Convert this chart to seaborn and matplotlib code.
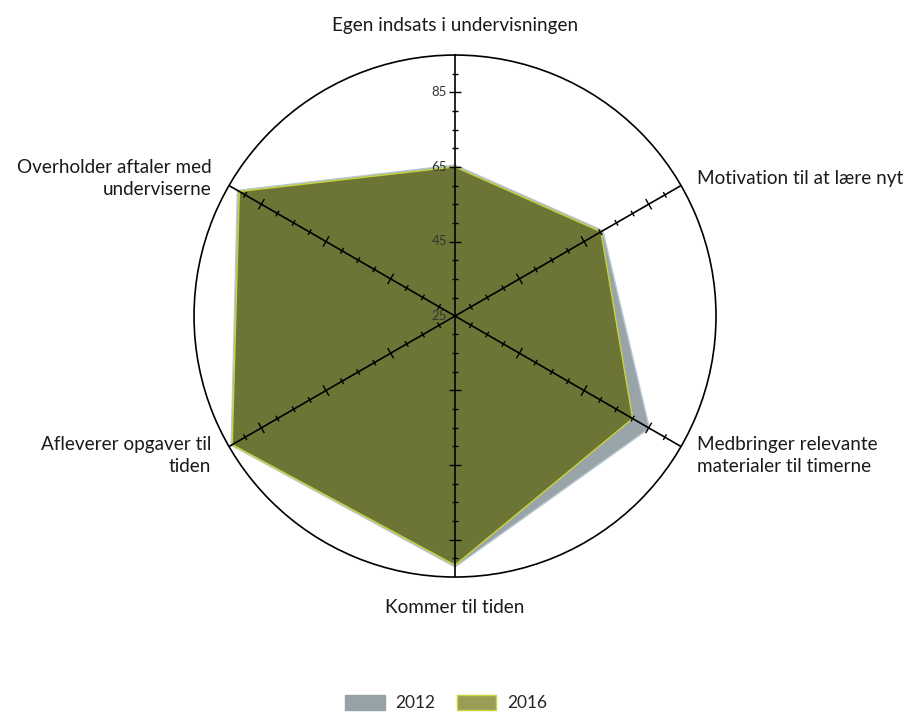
import numpy as np
import matplotlib
matplotlib.use("Agg")
import matplotlib.pyplot as plt
from matplotlib.patches import Patch
import seaborn as sns
import pandas as pd

categories = ["Egen indsats i undervisningen", "Motivation til at lære nyt",
              "Medbringer relevante\nmaterialer til timerne", "Kommer til tiden",
              "Afleverer opgaver til\ntiden", "Overholder aftaler med\nunderviserne"]
values_2012 = [65.5, 70.8, 85.2, 92.3, 94.3, 92.4]
values_2016 = [65.0, 70.2, 80.0, 91.8, 94.0, 91.8]
years = ["2012", "2016"]
r_min, r_max = 25, 95
tick_vals = [25, 45, 65, 85]

sns.set_style("white")
plt.rcParams['font.family'] = ['Lato', 'DejaVu Sans']

fill_colors = {"2012": "#98a4a8", "2016": "#6c7536"}
edge_colors = {"2012": "#b9c9d2", "2016": "#c9d43c"}
legend_colors = {"2012": "#95a3a6", "2016": "#9a9d55"}

fig = plt.figure(figsize=(9.16, 7.13), dpi=100)
ax = fig.add_axes([0.2118, 0.1907, 0.5699, 0.7321], projection="polar")
ax.set_theta_zero_location("N")
ax.set_theta_direction(-1)
ax.set_ylim(r_min, r_max)

n = len(categories)
angles = np.linspace(0, 2 * np.pi, n, endpoint=False)

rows = []
for yr, vals in zip(years, [values_2012, values_2016]):
    th = np.append(angles, 2 * np.pi)
    vv = np.append(vals, vals[0])
    ax.fill(th, vv, color=fill_colors[yr], zorder=2 if yr == "2012" else 3, lw=0)
    for t, v in zip(th, vv):
        rows.append({"theta": t, "r": v, "year": yr})
df = pd.DataFrame(rows)
sns.lineplot(data=df, x="theta", y="r", hue="year", palette=edge_colors,
             ax=ax, sort=True, estimator=None, lw=1.0, legend=False, zorder=4)

# spokes with tick marks (short cross segments, length in pixels)
fig.canvas.draw()
px_per_unit = (ax.transData.transform((0, r_max))[1] - ax.transData.transform((0, r_min))[1]) / (r_max - r_min)
minor = [v for v in range(30, 95, 5) if v not in tick_vals]
for a in angles:
    ax.plot([a, a], [r_min, r_max], color="black", lw=1.2, zorder=5)
    for v in minor + tick_vals[1:]:
        half = 6.0 if v in tick_vals else 3.2
        d = half / ((v - r_min) * px_per_unit)
        ax.plot([a - d, a + d], [v, v], color="black", lw=1.0, zorder=6,
                solid_capstyle="butt")

ax.set_xticks([])
ax.set_yticks([])
ax.grid(False)
ax.spines["polar"].set_color("black")
ax.spines["polar"].set_linewidth(1.2)
ax.set_xlabel("")
ax.set_ylabel("")

for v in tick_vals:
    ax.annotate(str(v), xy=(0, v), xytext=(-8, 0), textcoords="offset pixels",
                ha="right", va="center", fontsize=9.5, color="#333333", zorder=7)

offsets = [(0, 30, "center"), (16, 7, "left"), (16, -9, "left"),
           (0, -30, "center"), (-18, -9, "right"), (-17, 7, "right")]
for a, lab, (dx, dy, ha) in zip(angles, categories, offsets):
    ax.annotate(lab, xy=(a, r_max), xytext=(dx, dy), textcoords="offset pixels",
                ha=ha, va="center", fontsize=13.6, color="#1a1a1a",
                linespacing=1.35, annotation_clip=False)

handles = [Patch(facecolor=legend_colors[y], edgecolor=("#c9d43c" if y == "2016" else legend_colors[y]), label=y)
           for y in years]
fig.legend(handles=handles, loc="center", bbox_to_anchor=(0.487, 0.014),
           ncol=2, frameon=False, fontsize=12.5, handlelength=2.3,
           handleheight=1.0, columnspacing=1.2, handletextpad=0.6)

fig.savefig("out.png", dpi=100, facecolor="white")
